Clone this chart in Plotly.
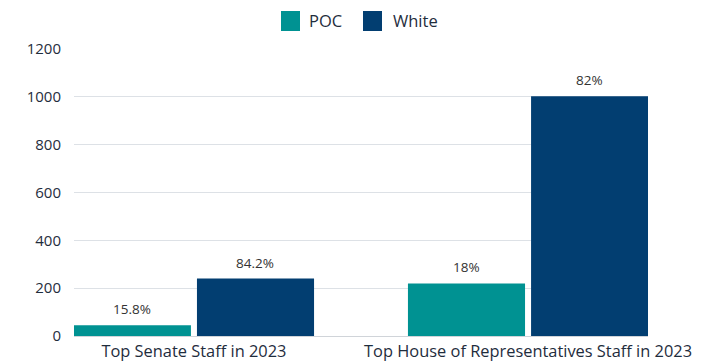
import plotly.graph_objects as go

categories = ["Top Senate Staff in 2023", "Top House of Representatives Staff in 2023"]
series_names = ["POC", "White"]
poc_counts = [45, 220]
white_counts = [240, 1002]
poc_labels = ["15.8%", "18%"]
white_labels = ["84.2%", "82%"]
y_ticks = [0, 200, 400, 600, 800, 1000, 1200]

TEXT = "#1f2d3d"
FONT = "Open Sans, sans-serif"
COLORS = {"POC": "#009292", "White": "#023e71"}

W, H = 706, 364
ML, MR, MT, MB = 74, 58, 49, 28
PW, PH = W - ML - MR, H - MT - MB
BAR_SLOT = 61.5  # half of one bar slot in px, used to centre value labels


def px_x(x):
    return (x - ML) / PW


def px_y(y):
    return (H - MB - y) / PH


fig = go.Figure()
for i, (name, vals, labels) in enumerate([("POC", poc_counts, poc_labels),
                                          ("White", white_counts, white_labels)]):
    fig.add_trace(go.Bar(
        name=name, x=categories, y=vals,
        marker=dict(color=COLORS[name], line=dict(width=0)),
        showlegend=False,
    ))
    shift = -BAR_SLOT if i == 0 else BAR_SLOT
    for cat, v, lab in zip(categories, vals, labels):
        fig.add_annotation(x=cat, y=v, text=lab, showarrow=False,
                           xshift=shift, yshift=5, yanchor="bottom",
                           font=dict(size=13.5, color="#333333", family=FONT))

# Legend drawn as swatches + labels above the plot
legend_items = [("POC", 281, 300, 307), ("White", 363, 382, 391)]
for name, x0, x1, tx in legend_items:
    fig.add_shape(type="rect", xref="paper", yref="paper",
                  x0=px_x(x0), x1=px_x(x1), y0=px_y(31), y1=px_y(11),
                  fillcolor=COLORS[name], line=dict(width=0))
    fig.add_annotation(text=name, xref="paper", yref="paper",
                       x=px_x(tx), y=px_y(21), xanchor="left", yanchor="middle",
                       showarrow=False, font=dict(size=16.5, color=TEXT, family=FONT))

fig.update_layout(
    width=W, height=H,
    margin=dict(l=ML, r=MR, t=MT, b=MB, autoexpand=False),
    paper_bgcolor="white", plot_bgcolor="white",
    barmode="group", bargap=0.263, bargroupgap=0.049,
    font=dict(family=FONT, color=TEXT, size=15),
    showlegend=False,
)
fig.update_xaxes(
    range=[-0.359, 1.359], showgrid=False, showline=True,
    linecolor="#d0d4d9", linewidth=1, ticks="", automargin=False,
    tickfont=dict(size=16.4, color=TEXT),
)
fig.update_yaxes(
    range=[0, 1200], tickvals=y_ticks, showgrid=True,
    gridcolor="#dde1e6", gridwidth=1, zeroline=False, automargin=False,
    showline=False, ticks="", ticklabelstandoff=12,
    tickfont=dict(size=15, color=TEXT),
)

fig.write_html("out.html")
